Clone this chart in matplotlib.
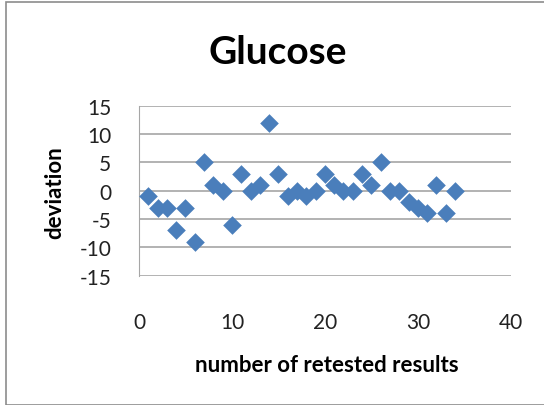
import matplotlib
matplotlib.use("Agg")
from matplotlib import pyplot as plt
from matplotlib.patches import Rectangle

# retest number vs deviation
x_vals = [1, 2, 3, 4, 5, 6, 7, 8, 9, 10, 11, 12, 13, 14, 15, 16, 17, 18, 19, 20,
          21, 22, 23, 24, 25, 26, 27, 28, 29, 30, 31, 32, 33, 34]
deviation = [-1, -3, -3, -7, -3, -9, 5, 1, 0, -6, 3, 0, 1, 12, 3, -1, 0, -1, 0, 3,
             1, 0, 0, 3, 1, 5, 0, 0, -2, -3, -4, 1, -4, 0]
y_ticks = [-15, -10, -5, 0, 5, 10, 15]
x_ticks = [0, 10, 20, 30, 40]

plt.rcParams['font.family'] = ['Lato', 'DejaVu Sans']
plt.rcParams['axes.unicode_minus'] = False

fig = plt.figure(figsize=(5.44, 4.06), dpi=100)
fig.patches.append(Rectangle((6/544, 0), 1, 1 - 3/406, transform=fig.transFigure,
                             fill=False, edgecolor='#8c8c8c', linewidth=1.2))
ax = fig.add_axes([0.2555, 0.3185, 0.6835, 0.4185])

ax.scatter(x_vals, deviation, marker='D', s=90, color='#4a7ebb', zorder=3, linewidths=0)

ax.set_xlim(0, 40)
ax.set_ylim(-15, 15)
ax.set_xticks(x_ticks)
ax.set_yticks(y_ticks)
ax.yaxis.grid(True, color='#a6a6a6', linewidth=1.2)
ax.set_axisbelow(True)
for s in ['top', 'right', 'bottom']:
    ax.spines[s].set_visible(False)
ax.spines['left'].set_color('#a6a6a6')
ax.tick_params(axis='both', length=0, labelsize=15, colors='#222222')
ax.tick_params(axis='x', pad=26)
ax.tick_params(axis='y', pad=20)

fig.text(0.51, 0.87, "Glucose", ha='center', va='center', fontsize=28, fontweight='bold')
fig.text(0.6, 0.10, "number of retested results", ha='center', va='center',
         fontsize=16, fontweight='bold')
fig.text(0.10, 0.525, "deviation", ha='center', va='center', rotation=90,
         fontsize=16, fontweight='bold')

fig.savefig("out.png", dpi=100)
